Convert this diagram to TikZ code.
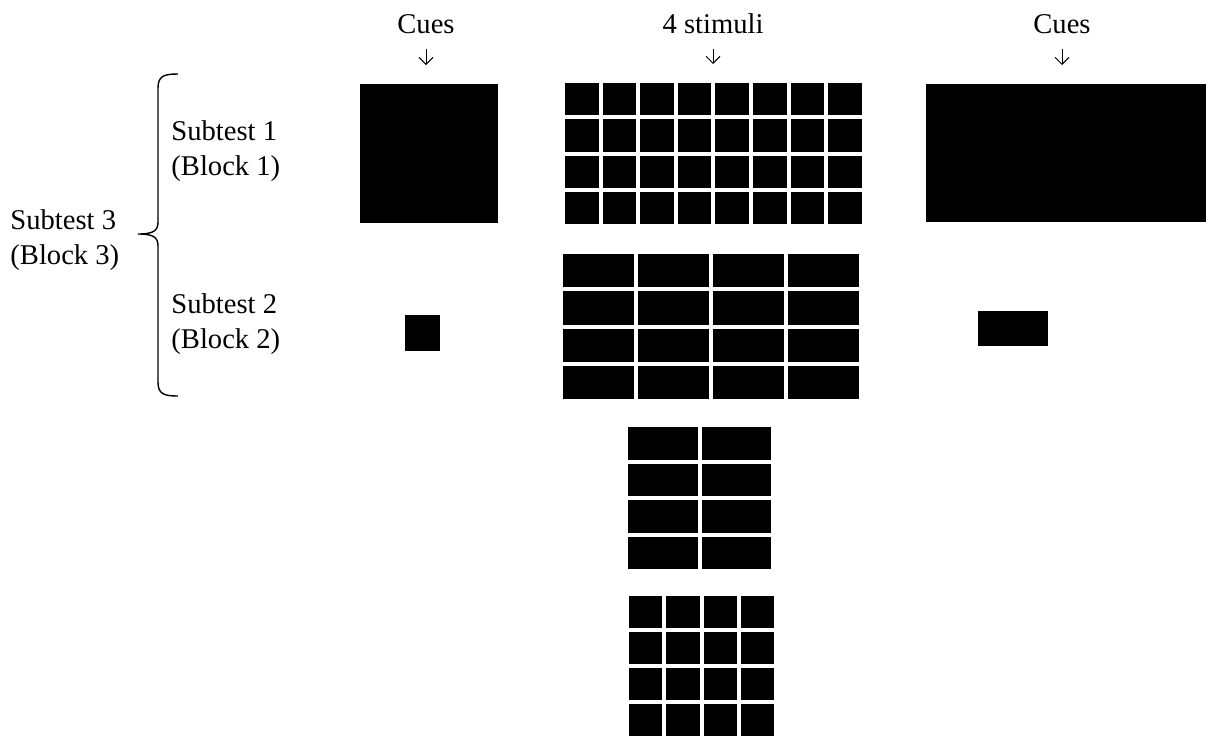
\documentclass[tikz,border=0pt]{standalone}
\usepackage{fontspec}
\setmainfont{Liberation Serif}
\usetikzlibrary{arrows.meta, positioning, calc}

% one block of stimuli: corner, cols, rows, cell w, cell h (px)
\newcommand{\stimgrid}[5]{%
  \foreach \c in {1,...,#2}
    \foreach \r in {1,...,#3}
      \fill ($(#1)+({(\c-1)*(#4+4)},{(\r-1)*(#5+4)})$) rectangle ++(#4,#5);
}

\begin{document}
\begin{tikzpicture}[
  x=0.5pt, y=-0.5pt,
  every node/.style={font=\fontsize{14.3}{17.5}\selectfont, align=left, inner sep=0pt},
  cue/.style={fill=black, outer sep=0pt, anchor=north west},
  head/.style={anchor=base, align=center},
  arr/.style={-{Straight Barb[length=3.5pt, width=7pt]}, line width=0.5pt,
              shorten <=7.5pt, shorten >=9.5pt},
]
  \useasboundingbox (0,0) rectangle (1208,736);

  % headings
  \node[head] (cuesL) at (426,33)  {Cues};
  \node[head] (stim)  at (713,33)  {4 stimuli};
  \node[head] (cuesR) at (1062,33) {Cues};

  % labels + brace
  \node[anchor=west] (sub1) at (171,151) {Subtest 1\\(Block 1)};
  \node[anchor=west] (sub2) at (171,324) {Subtest 2\\(Block 2)};
  \node[anchor=west] (sub3) at (10,240)  {Subtest 3\\(Block 3)};
  \draw[line width=0.7pt]
    (178,74) .. controls (164,74) and (158,76) .. (158,88) -- (158,222)
    .. controls (158,231) and (153,234) .. (138,234)
    .. controls (153,234) and (158,237) .. (158,246) -- (158,382)
    .. controls (158,394) and (164,396) .. (178,396);

  % cues
  \node[cue, minimum width=69pt,  minimum height=69.5pt] (cueA)  at (360,84)  {};
  \node[cue, minimum width=140pt, minimum height=69pt]   (cueB)  at (926,84)  {};
  \node[cue, minimum width=17.5pt, minimum height=18pt]  (cueA2) at (405,315) {};
  \node[cue, minimum width=35pt,  minimum height=17.5pt] (cueB2) at (978,311) {};

  % stimuli
  \coordinate (grid1) at (565,83);
  \coordinate (grid2) at (563,254);
  \coordinate (grid3) at (628,427);
  \coordinate (grid4) at (629,596);
  \stimgrid{grid1}{8}{4}{33.6}{32.25}
  \stimgrid{grid2}{4}{4}{71}{33.25}
  \stimgrid{grid3}{2}{4}{69.5}{32.5}
  \stimgrid{grid4}{4}{4}{33.25}{32}
  \coordinate (gridtop) at (713,83);

  \draw[arr] (cuesL.south) -- (cuesL.south |- cueA.north);
  \draw[arr] (stim.south)  -- (stim.south |- gridtop);
  \draw[arr] (cuesR.south) -- (cuesR.south |- cueB.north);
\end{tikzpicture}
\end{document}
